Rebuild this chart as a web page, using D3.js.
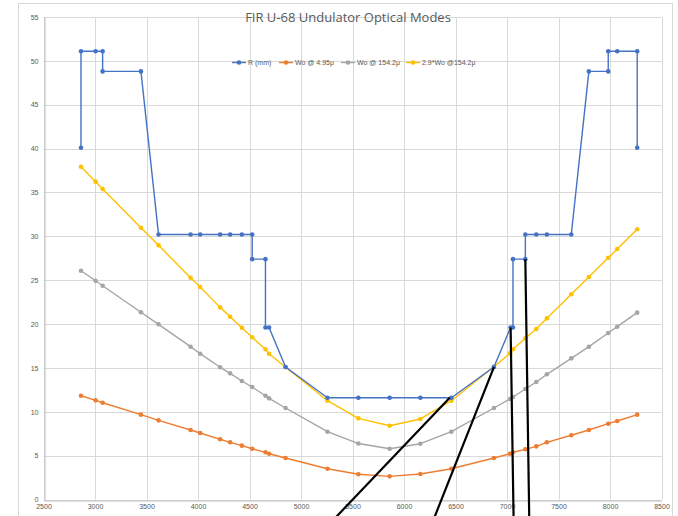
<!DOCTYPE html>
<html><head><meta charset="utf-8">
<script src="https://cdn.jsdelivr.net/npm/d3@7"></script>
<style>body{margin:0;background:#fff;}svg{display:block;}</style>
</head><body>
<script>
// ---- data ----
const xTicks = [2500,3000,3500,4000,4500,5000,5500,6000,6500,7000,7500,8000,8500];
const yTicks = [0,5,10,15,20,25,30,35,40,45,50,55];

const rX = [2864,2864,3006,3074,3074,3446,3617,3928,4021,4215,4312,4426,4526,4526,4655,4655,4690,4850,5257,5557,5861,6159,6460,6873,7035,7058,7058,7178,7178,7284,7387,7624,7795,7983,7983,8070,8264,8264];
const rY = [40.1,51.1,51.1,51.1,48.8,48.8,30.2,30.2,30.2,30.2,30.2,30.2,30.2,27.4,27.4,19.6,19.6,15.1,11.6,11.6,11.6,11.6,11.6,15.1,19.6,19.6,27.4,27.4,30.2,30.2,30.2,30.2,48.8,48.8,51.1,51.1,51.1,40.1];

const zX = [2864,3006,3074,3446,3617,3928,4021,4215,4312,4426,4526,4655,4690,4850,5257,5557,5861,6159,6460,6873,7030,7058,7178,7284,7387,7624,7795,7983,8070,8264];
const wo495 = [11.83,11.30,11.03,9.67,9.02,7.92,7.58,6.86,6.52,6.14,5.79,5.38,5.22,4.73,3.51,2.88,2.64,2.90,3.51,4.73,5.22,5.38,5.72,6.06,6.52,7.32,7.92,8.64,8.95,9.67];
const wo1542 = [26.08,24.94,24.37,21.34,19.97,17.42,16.62,15.07,14.38,13.51,12.82,11.83,11.53,10.43,7.73,6.38,5.79,6.36,7.73,10.43,11.46,11.68,12.60,13.39,14.27,16.09,17.42,18.98,19.70,21.30];
const wo29 = [37.93,36.23,35.39,30.98,28.97,25.28,24.22,21.90,20.84,19.58,18.49,17.12,16.62,15.07,11.26,9.25,8.41,9.18,11.26,15.14,16.66,17.12,18.37,19.43,20.65,23.39,25.36,27.55,28.55,30.80];

const seriesNames = ["R (mm)","Wo @ 4.95\u03bc","Wo @ 154.2\u03bc","2.9*Wo @154.2\u03bc"];
const seriesColors = ["#4472C4","#ED7D31","#A5A5A5","#FFC000"];

// annotation pointer lines (data coords: x1,y1 -> x2,y2)
const pointerLines = [
  [6444,11.6,5324,-2.2],
  [6873,15.1,6290,-2.2],
  [7035,19.6,7064,-2.2],
  [7178,27.4,7216,-2.2]
];

// ---- chart ----
const W=678,H=516;
const svg=d3.select("body").append("svg").attr("width",W).attr("height",H);
const plot={l:43.5,r:661.5,t:17,b:499.5};
const x=d3.scaleLinear().domain([2500,8500]).range([plot.l,plot.r]);
const y=d3.scaleLinear().domain([0,55]).range([plot.b,plot.t]);

// outer chart border
svg.append("rect").attr("x",18.5).attr("y",3.5).attr("width",654).attr("height",560)
  .attr("fill","#fff").attr("stroke","#D9D9D9").attr("stroke-width",1);

// gridlines
svg.append("g").selectAll("line").data(yTicks).join("line")
  .attr("x1",plot.l).attr("x2",plot.r).attr("y1",d=>Math.round(y(d))+0.5).attr("y2",d=>Math.round(y(d))+0.5)
  .attr("stroke","#D9D9D9").attr("stroke-width",1);
svg.append("g").selectAll("line").data(xTicks).join("line")
  .attr("y1",plot.t).attr("y2",plot.b).attr("x1",d=>Math.round(x(d))+0.5).attr("x2",d=>Math.round(x(d))+0.5)
  .attr("stroke","#D9D9D9").attr("stroke-width",1);

// axes
const yAxis=svg.append("g").attr("transform",`translate(${Math.round(plot.l)+0.5},0)`)
  .call(d3.axisLeft(y).tickValues(yTicks).tickSize(0).tickPadding(6));
const xAxis=svg.append("g").attr("transform",`translate(0,${Math.round(plot.b)+0.5})`)
  .call(d3.axisBottom(x).tickValues(xTicks).tickSize(0).tickPadding(4).tickFormat(d3.format("d")));
[yAxis,xAxis].forEach(a=>{
  a.select(".domain").attr("stroke","#BFBFBF");
  a.selectAll("text").attr("fill","#595959").attr("font-size","7px").attr("font-family","Liberation Sans, Arial, sans-serif");
});

// title
svg.append("text").attr("x",348).attr("y",22).attr("text-anchor","middle")
  .attr("font-family","Open Sans, Liberation Sans, sans-serif").attr("font-size","13px").attr("fill","#595959")
  .text("FIR U-68 Undulator Optical Modes");

// series
const series=[
  {x:rX,y:rY},
  {x:zX,y:wo495},
  {x:zX,y:wo1542},
  {x:zX,y:wo29}
];
const line=d3.line().x(d=>x(d[0])).y(d=>y(d[1]));
const order=[2,1,3,0];
order.forEach(i=>{
  const s=series[i];
  const pts=s.x.map((v,j)=>[v,s.y[j]]);
  const g=svg.append("g");
  g.append("path").attr("d",line(pts)).attr("fill","none").attr("stroke",seriesColors[i])
    .attr("stroke-width",1.4).attr("stroke-linejoin","round");
  g.selectAll("circle").data(pts).join("circle").attr("cx",d=>x(d[0])).attr("cy",d=>y(d[1]))
    .attr("r",2.3).attr("fill",seriesColors[i]);
});

// legend
const legX=[232,279,341,406];
const lg=svg.append("g");
seriesNames.forEach((n,i)=>{
  const gx=legX[i], gy=62.5;
  lg.append("line").attr("x1",gx).attr("x2",gx+14).attr("y1",gy).attr("y2",gy)
    .attr("stroke",seriesColors[i]).attr("stroke-width",1.4);
  lg.append("circle").attr("cx",gx+7).attr("cy",gy).attr("r",2.3).attr("fill",seriesColors[i]);
  lg.append("text").attr("x",gx+16).attr("y",gy+2.5).attr("font-size","7px")
    .attr("font-family","Liberation Sans, Arial, sans-serif").attr("fill","#595959").text(n);
});

// annotation lines
svg.append("g").selectAll("line").data(pointerLines).join("line")
  .attr("x1",d=>x(d[0])).attr("y1",d=>y(d[1])).attr("x2",d=>x(d[2])).attr("y2",d=>y(d[3]))
  .attr("stroke","#000").attr("stroke-width",2.2);
</script>
</body></html>
